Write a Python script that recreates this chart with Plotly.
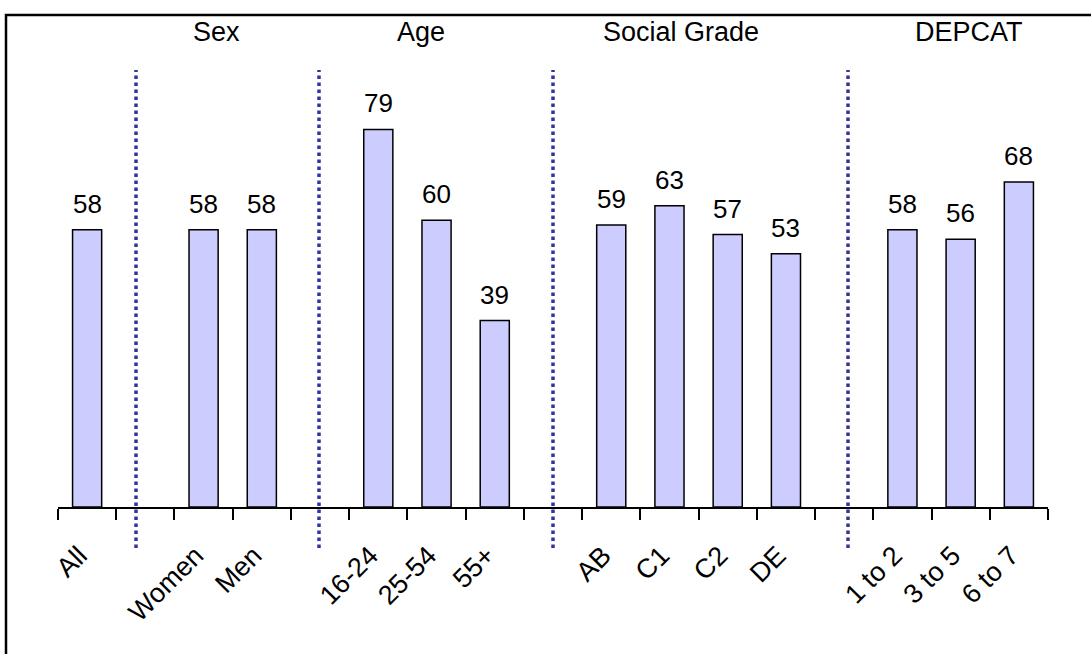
import plotly.graph_objects as go

categories = ["All", " ", "Women", "Men", "  ", "16-24", "25-54", "55+", "   ",
              "AB", "C1", "C2", "DE", "    ", "1 to 2", "3 to 5", "6 to 7"]
values = [58, None, 58, 58, None, 79, 60, 39, None, 59, 63, 57, 53, None, 58, 56, 68]
group_labels = ["Sex", "Age", "Social Grade", "DEPCAT"]

W, H = 1091, 654
L, R, T, B = 58, 43, 60, 147
pw, ph = W - L - R, H - T - B

# helpers converting page pixel positions to paper fractions
def px_x(p):
    return (p - L) / pw

def px_y(p):
    return (H - B - p) / ph

FONT = "Liberation Sans, Arial, Helvetica, sans-serif"

fig = go.Figure()
fig.add_trace(go.Bar(
    x=categories, y=values,
    marker=dict(color="#CCCCFF", line=dict(color="black", width=1.5)),
    hoverinfo="skip",
))

for c, v in zip(categories, values):
    if v is not None:
        fig.add_annotation(x=c, y=v, text=str(v), showarrow=False,
                           yanchor="bottom", yshift=9,
                           font=dict(size=26, color="black", family=FONT))

group_px = [216, 421, 681, 969]
for g, gx in zip(group_labels, group_px):
    fig.add_annotation(x=px_x(gx), y=px_y(32), xref="paper", yref="paper",
                       text=g, showarrow=False, xanchor="center", yanchor="middle",
                       font=dict(size=27, color="black", family=FONT))

for sx in [136, 319, 553, 848]:
    fig.add_shape(type="line", xref="paper", yref="paper",
                  x0=px_x(sx), x1=px_x(sx), y0=px_y(548), y1=px_y(70),
                  line=dict(color="#333399", width=3.5, dash="dot"))

# outer frame
fig.add_shape(type="rect", xref="paper", yref="paper",
              x0=px_x(6), x1=px_x(1110), y0=px_y(680), y1=px_y(15),
              line=dict(color="black", width=2.5), fillcolor="rgba(0,0,0,0)")

fig.update_layout(
    width=W, height=H,
    margin=dict(l=L, r=R, t=T, b=B),
    paper_bgcolor="white", plot_bgcolor="white",
    bargap=0.5, showlegend=False,
    font=dict(family=FONT, size=26, color="black"),
)
fig.update_xaxes(
    type="category", categoryorder="array", categoryarray=categories,
    showline=True, linecolor="black", linewidth=2,
    ticks="outside", tickson="boundaries", ticklen=11, tickwidth=1.5, tickcolor="black",
    tickangle=-45, tickfont=dict(size=27, family=FONT, color="black"),
    ticklabelstandoff=20, ticklabelshift=-8, showgrid=False, zeroline=False,
)
fig.update_yaxes(range=[0, ph / 4.78], visible=False, showgrid=False)

fig.write_html("out.html", config={"displayModeBar": False},
               post_script="document.body.style.margin='0px';document.body.style.overflow='hidden';")
